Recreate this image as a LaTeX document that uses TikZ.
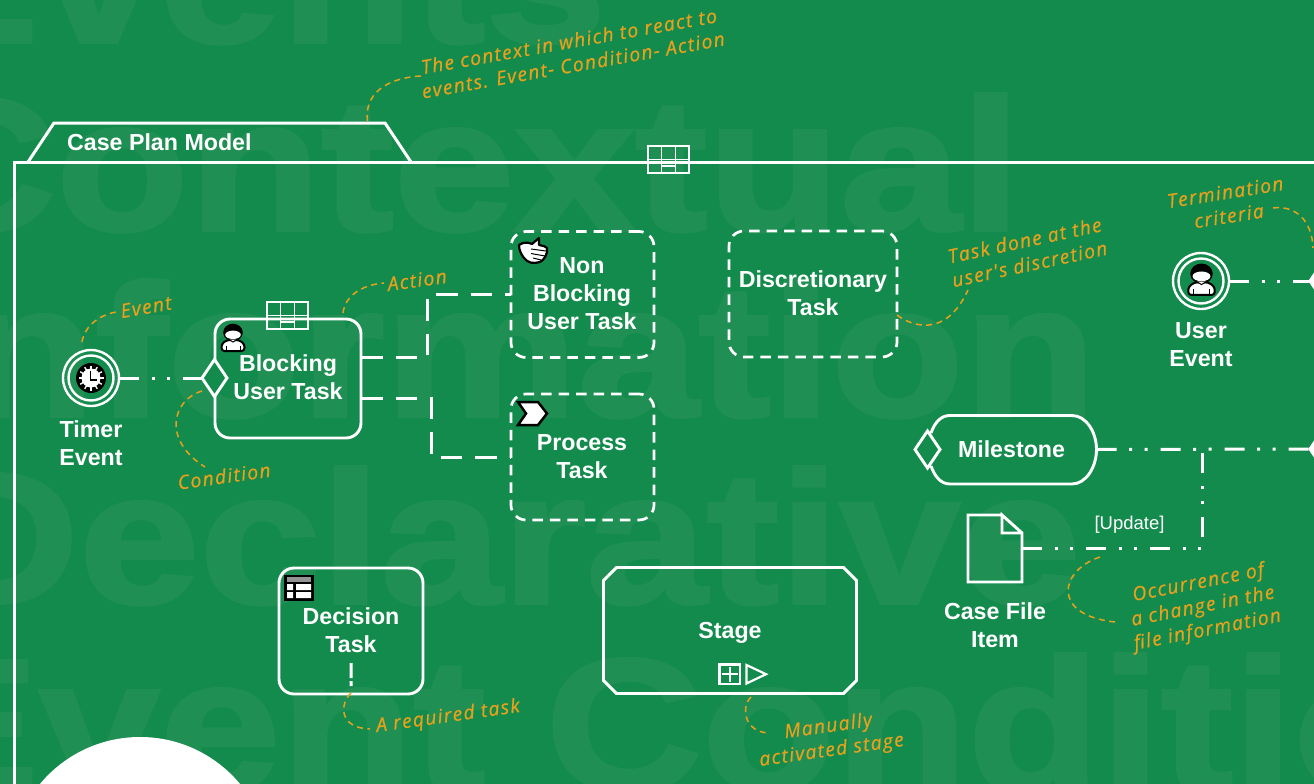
\documentclass[tikz,border=0pt]{standalone}
\usepackage{fontspec}
\setmainfont{Liberation Sans}
\newfontfamily\notefont[LetterSpace=7,ItalicFeatures={FakeBold=0.5}]{Open Sans}
\newfontfamily\wmfont[BoldFeatures={FakeStretch=1.155,FakeBold=2}]{Liberation Sans}
\usetikzlibrary{shapes.geometric,shapes.misc}
\definecolor{bg}{HTML}{138B4D}
\definecolor{wm}{HTML}{1F8F53}
\definecolor{noteorange}{HTML}{E8A11C}
\tikzset{
  main/.style={font=\fontsize{23.2}{28}\selectfont\bfseries,text=white,align=center,inner sep=0pt},
  wmtext/.style={font=\wmfont\bfseries\fontsize{188}{188}\selectfont,text=wm,anchor=base west,inner sep=0pt},
  taskbox/.style={draw=white,line width=2.9pt,rounded corners=15pt,outer sep=0pt,inner sep=0pt},
  discbox/.style={taskbox,line width=2.7pt,dash pattern=on 10.5pt off 7pt},
  event/.style={circle,draw=white,line width=2.4pt,minimum size=56pt,inner sep=0pt,outer sep=0pt},
  eventin/.style={circle,draw=white,line width=2.4pt,minimum size=45pt,inner sep=0pt},
  sentry/.style={diamond,draw=white,fill=bg,line width=2.9pt,minimum width=25pt,minimum height=37pt,inner sep=0pt,outer sep=0pt},
  exitsentry/.style={sentry,fill=white},
  depline/.style={draw=white,line width=3pt,dash pattern=on 20pt off 12.5pt on 3pt off 12.5pt on 3pt off 13pt},
  planline/.style={draw=white,line width=3pt,dash pattern=on 21.5pt off 13pt},
  note/.style={font=\notefont\itshape\fontsize{19.3}{24}\selectfont,text=noteorange,align=center,inner sep=0pt},
  notelink/.style={draw=noteorange,line width=1.5pt,dash pattern=on 6pt off 4.5pt},
  pics/plantable/.style={code={
    \draw[white,line width=1.5pt] (-20.5,-13.5) rectangle (20.5,13.5)
      (-7,-13.5) -- (-7,13.5) (7,-13.5) -- (7,13.5) (-20.5,0) -- (20.5,0) (-7,6.5) -- (7,6.5);
  }},
  pics/usericon/.style={code={
    \draw[black,fill=white,line width=2pt,rounded corners=3pt] (-11.5,13) -- (-11.5,6) -- (-6,2) -- (6,2) -- (11.5,6) -- (11.5,13) -- cycle;
    \draw[black,line width=1pt] (-7,8) -- (-7,13) (7,8) -- (7,13);
    \fill[black] (0,-5.5) ellipse (9.8pt and 8.8pt);
    \fill[white] (0,-3.2) ellipse (7.8pt and 4.2pt);
    \draw[black,fill=white,line width=1pt] (-4,1.5) -- (0,4) -- (4,1.5);
  }},
}
\begin{document}
\begin{tikzpicture}[x=1pt,y=-1pt]
\useasboundingbox (0,0) rectangle (1314,784);
\clip (0,0) rectangle (1314,784);
\fill[bg] (0,0) rectangle (1314,784);
% watermark
\node[wmtext] (w1) at (-106,42) {Events};
\node[wmtext] (w2) at (-101,230) {Contextual};
\node[wmtext] (w3) at (-98,416) {Information};
\node[wmtext] (w4) at (-78,603) {Declarative};
\node[wmtext] (w5) at (-106,790) {Event Condition};
\fill[white] (140,867) circle (130pt);
% case plan
\draw[white,line width=3pt] (1320,162) -- (14,162) -- (14,790);
\draw[white,line width=3pt,line join=miter] (28,162) -- (54,123) -- (385,123) -- (411,162);
\node[main,anchor=west] (casetitle) at (67,142) {Case Plan Model};
\pic at (668.5,159.5) {plantable};
% tasks
\node[taskbox,minimum width=146pt,minimum height=119pt] (blocking) at (288,378.5) {};
\node[main] (blockingt) at (288,377) {Blocking\\User Task};
\pic at (287.5,315.5) {plantable};
\pic at (233,338) {usericon};
\node[discbox,minimum width=143pt,minimum height=126pt] (nonblocking) at (582.5,294.5) {};
\node[main] (nonblockingt) at (582,294) {Non\\Blocking\\User Task};
\node[discbox,minimum width=168pt,minimum height=126pt] (discretionary) at (813,294) {};
\node[main] (discretionaryt) at (813,293) {Discretionary\\Task};
\node[discbox,minimum width=143pt,minimum height=126pt] (process) at (582.5,457) {};
\node[main] (processt) at (582,457) {Process\\Task};
\node[taskbox,minimum width=144pt,minimum height=126pt] (decision) at (351,631) {};
\node[main] (decisiont) at (351,630) {Decision\\Task};
\node[minimum width=253pt,minimum height=126pt,inner sep=0pt,outer sep=0pt] (stage) at (730,630.5) {};
\draw[white,line width=2.9pt,line join=miter] ([xshift=13pt]stage.north west) -- ([xshift=-13pt]stage.north east) -- ([yshift=-13pt]stage.north east) -- ([yshift=13pt]stage.south east) -- ([xshift=-13pt]stage.south east) -- ([xshift=13pt]stage.south west) -- ([yshift=13pt]stage.south west) -- ([yshift=-13pt]stage.north west) -- cycle;
\node[main,anchor=base] (staget) at (730,638) {Stage};
% hand icon
\draw[black,fill=white,line width=2.2pt,line join=round] (519,245) .. controls (523,242) and (528,242) .. (532,244) -- (539,238) -- (539,245) .. controls (543,246) and (546,246) .. (547,248) .. controls (548,254) and (544,260) .. (540,262) .. controls (533,264) and (528,263) .. (524,258) .. controls (521,254) and (519,250) .. cycle;
\draw[black,line width=1pt] (531,249) -- (546,251) (531,253.5) -- (545,256) (533,258) -- (541,260);
% process icon
\draw[black,fill=white,line width=2.5pt,line join=miter] (518,402) -- (538,402) -- (547,413.5) -- (538,425) -- (518,425) -- (526,413.5) -- cycle;
% decision icon
\fill[black] (284,575) rectangle (314,601);
\fill[gray!85] (287,577) rectangle (311,582);
\fill[white] (287,584) rectangle (293,590) (296,584) rectangle (311,590) (287,592) rectangle (293,598) (296,592) rectangle (311,598);
% required marker
\fill[white] (349.5,663) rectangle (352.5,678) (349.5,681) rectangle (352.5,686);
% stage markers
\draw[white,line width=2.2pt] (719.5,664.5) rectangle (740,684) (721.5,674.2) -- (738,674.2) (729.7,666.5) -- (729.7,682);
\draw[white,line width=2.2pt,line join=miter] (746.5,665) -- (766,674.2) -- (746.5,683.5) -- cycle;
% timer event
\node[event] (timer) at (91,378) {};
\node[eventin] at (91,378) {};
\fill[black] (91,378) circle (15pt);
\foreach \a in {0,30,...,330}{\draw[white,line width=1.4pt] (91,378) -- ++(\a:12.5pt);}
\fill[white] (91,378) circle (9.5pt);
\draw[black,line width=1.8pt,line join=miter] (90.5,370.5) -- (90.5,380) -- (97,380);
\node[main] (timert) at (91,443) {Timer\\Event};
\node[sentry] (entry) at (214.5,378) {};
% user event
\node[event] (user) at (1201,281) {};
\node[eventin] at (1201,281) {};
\pic[scale=1.15] at (1201.5,280) {usericon};
\node[main] (usert) at (1201,345) {User\\Event};
\node[exitsentry] (exit1) at (1322.5,281) {};
\node[exitsentry] (exit2) at (1322.5,449) {};
% milestone
\draw[white,line width=2.9pt] (931,433) .. controls (935,422) and (941,415.5) .. (950,415.5) -- (1072,415.5) .. controls (1086,415.5) and (1096.5,432) .. (1096.5,449.5) .. controls (1096.5,467) and (1086,484) .. (1072,484) -- (950,484) .. controls (941,484) and (935,477) .. (931,466);
\node[main,minimum width=170pt,minimum height=68pt] (milestone) at (1011.5,449.5) {Milestone};
\node[sentry] (msentry) at (927.5,449.5) {};
% case file
\draw[white,line width=2.9pt,line join=miter] (1002,515) -- (968,515) -- (968,582) -- (1022,582) -- (1022,533) -- (1002,515) -- (1002,533) -- (1022,533);
\node[minimum width=54pt,minimum height=67pt,inner sep=0pt,outer sep=0pt] (file) at (995,548.5) {};
\node[main] (filet) at (995,625) {Case File\\Item};
\node[font=\fontsize{18.5}{20}\selectfont,text=white,inner sep=0pt] (update) at (1129.5,525) {[Update]};
% connectors
\coordinate (junction) at (1202,449.5);
\draw[depline] (timer.east) -- (entry.west);
\draw[depline] (user.east) -- (exit1.west);
\draw[depline] (milestone.east) -- (exit2.west);
\draw[depline] (file.east) -- (file.east -| junction) -- (junction);
\draw[planline] ([yshift=21pt]blocking.east) -- ++(66.5,0) |- (nonblocking.west);
\draw[planline] ([yshift=-20pt]blocking.east) -- ++(70,0) |- (process.west);
% notes
\node[note,rotate=10] (n1) at (571,53) {The context in which to react to\\events. Event- Condition- Action};
\node[note,rotate=10] (n2) at (146,307) {Event};
\node[note,rotate=8] (n3) at (417,280) {Action};
\node[note,rotate=8] (n4) at (224,476) {Condition};
\node[note,rotate=12] (n5) at (1027,252) {Task done at the\\user's discretion};
\node[note,rotate=9] (n6) at (1227,204) {Termination\\criteria};
\node[note,rotate=11] (n7) at (1203,607) {Occurrence of\\a change in the\\file information};
\node[note,rotate=8] (n8) at (448,717) {A required task};
\node[note,rotate=8] (n9) at (830,739) {Manually\\activated stage};
\coordinate (c1) at (367.5,121); \coordinate (d1) at (421,76);
\coordinate (c2) at (82,342); \coordinate (d2) at (116,312);
\coordinate (c3) at (343,313); \coordinate (d3) at (384,283);
\coordinate (c4) at (202,391); \coordinate (d4) at (205,467);
\coordinate (c5) at (897,315); \coordinate (d5) at (968,290);
\coordinate (c6) at (1273,208); \coordinate (d6) at (1313,248);
\coordinate (c7) at (1100,557); \coordinate (d7) at (1115,622);
\coordinate (c8) at (351,693); \coordinate (d8) at (370,729);
\coordinate (c9) at (751,697); \coordinate (d9) at (770,733);
\draw[notelink] (c1) .. controls (364,95) and (385,78) .. (d1);
\draw[notelink] (c2) .. controls (85,325) and (100,315) .. (d2);
\draw[notelink] (c3) .. controls (345,297) and (360,285) .. (d3);
\draw[notelink] (c4) .. controls (172,400) and (162,440) .. (d4);
\draw[notelink] (c5) .. controls (910,325) and (945,340) .. (d5);
\draw[notelink] (c6) .. controls (1295,205) and (1312,220) .. (d6);
\draw[notelink] (c7) .. controls (1060,570) and (1050,615) .. (d7);
\draw[notelink] (c8) .. controls (340,703) and (338,728) .. (d8);
\draw[notelink] (c9) .. controls (740,708) and (745,733) .. (d9);
\end{tikzpicture}
\end{document}
